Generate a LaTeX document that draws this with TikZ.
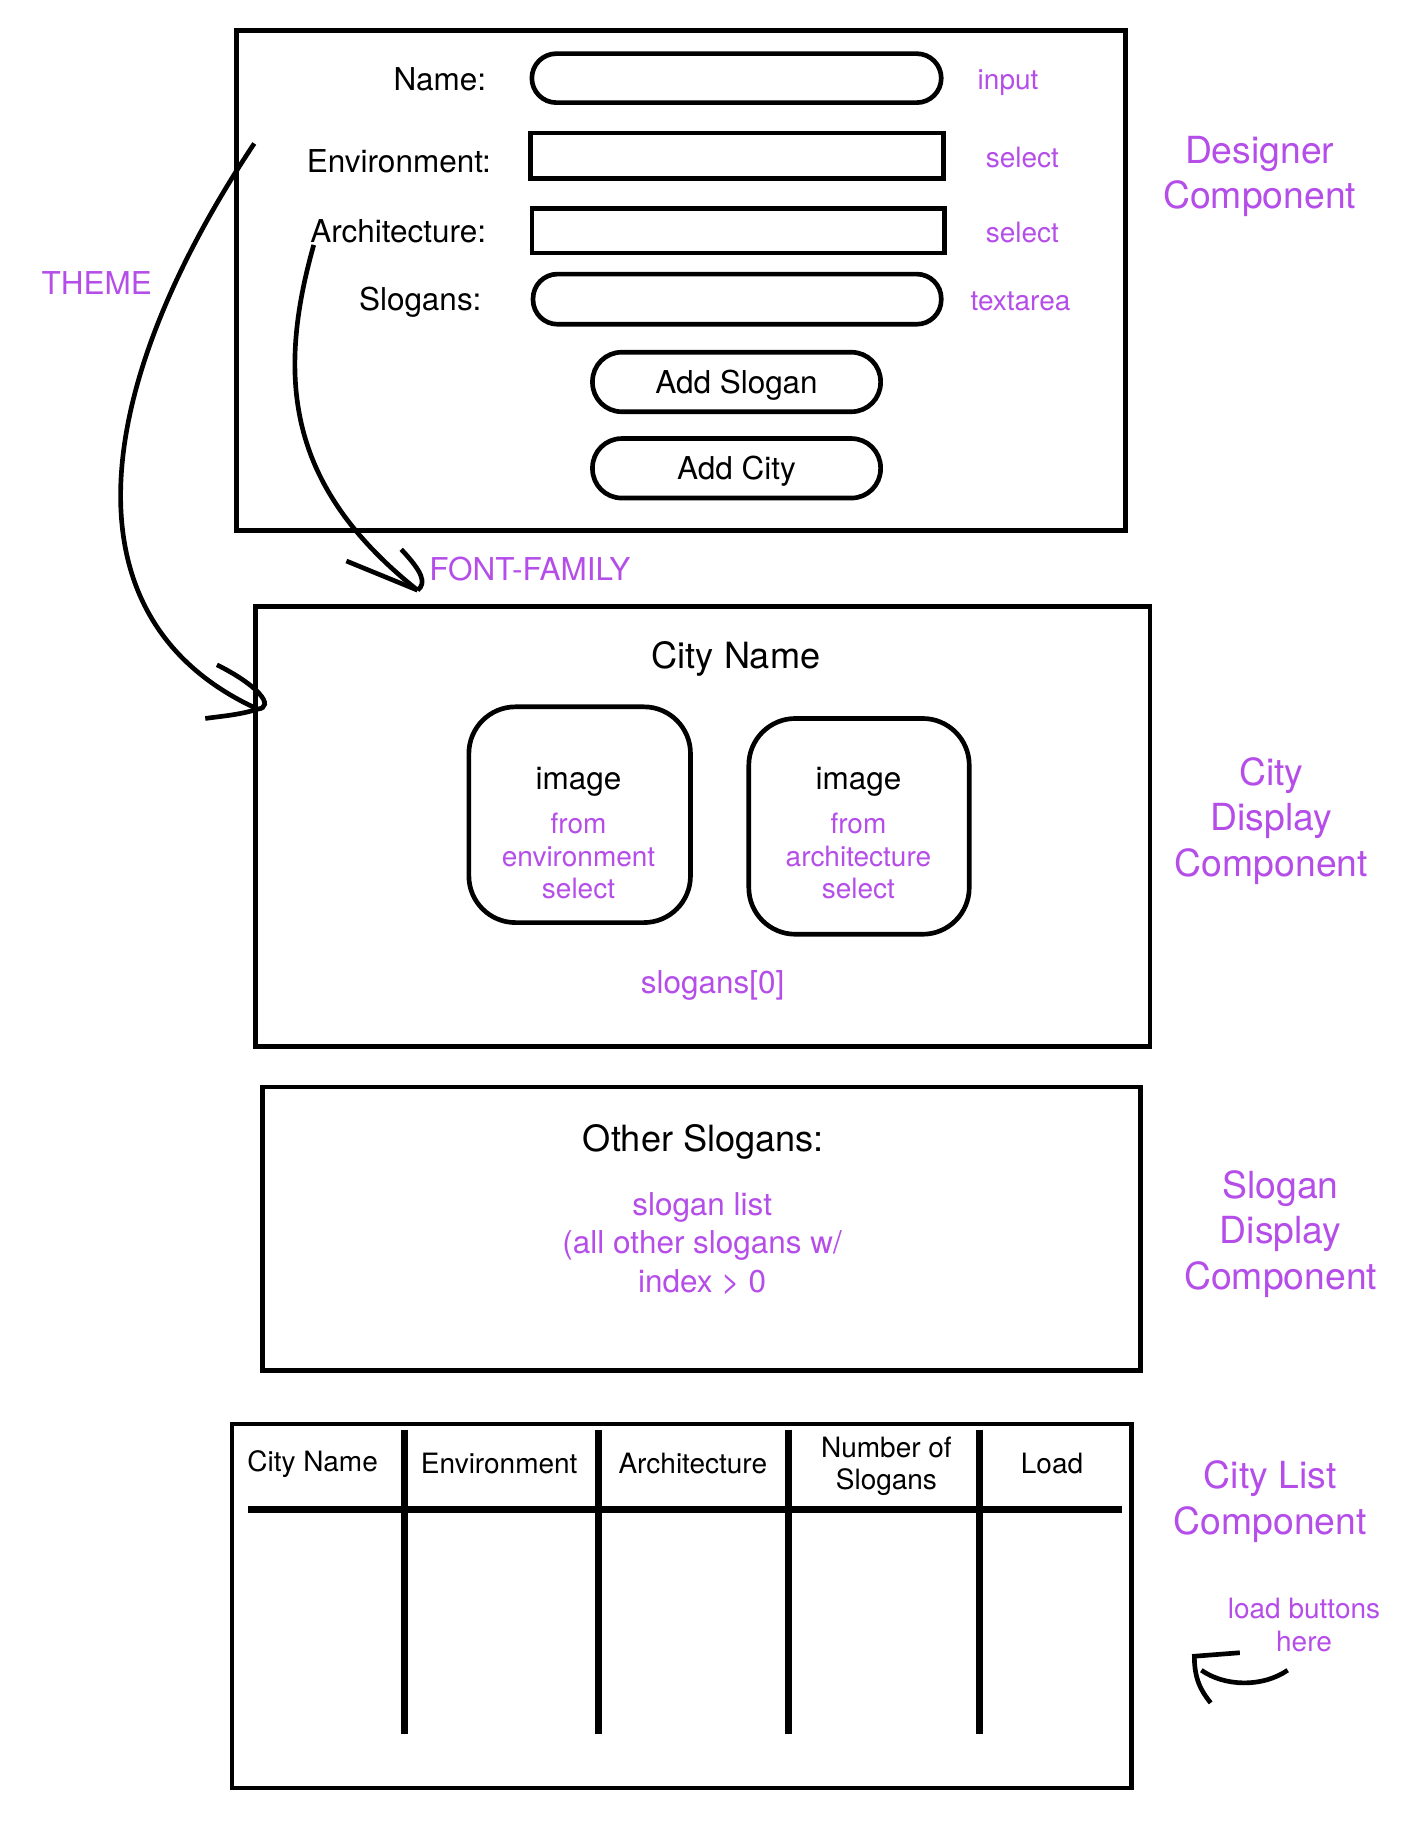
\documentclass[tikz,border=0pt]{standalone}
\usepackage{fontspec}
\setmainfont{TeX Gyre Heros}
\usepackage{xcolor}
\definecolor{hint}{RGB}{181,78,232}
\tikzstyle{panel}=[draw, line width=4pt, inner sep=0pt]
\tikzstyle{field}=[draw, line width=4pt, inner sep=0pt]
\tikzstyle{pill}=[field, rounded corners=21pt]
\tikzstyle{button}=[field, rounded corners=25pt, font=\fontsize{27}{32}\selectfont]
\tikzstyle{tile}=[field, rounded corners=40pt]
\tikzstyle{fieldname}=[anchor=mid east, inner sep=0pt, font=\fontsize{27}{32}\selectfont]
\tikzset{hint/.style={text=hint, font=\fontsize{24}{28}\selectfont}}
\tikzset{note/.style={text=hint, align=center, font=\fontsize{27}{33}\selectfont}}
\tikzset{component/.style={text=hint, align=center, font=\fontsize{32}{39}\selectfont}}
\tikzset{heading/.style={font=\fontsize{31}{37}\selectfont}}
\tikzset{colhead/.style={align=center, font=\fontsize{24}{27}\selectfont}}
\tikzset{stroke/.style={line width=4pt}}
\tikzset{column/.style={line width=6pt}}

\begin{document}
\begin{tikzpicture}[x=1pt,y=-1pt]
  \useasboundingbox (0,0) rectangle (1219,1569);
  %% Designer component
  \draw (584,240.5) node[panel,minimum width=762pt,minimum height=429pt] (designer) {};
  \draw (417,75) node[fieldname] (nameLbl) {Name:};
  \draw (421,145) node[fieldname] (envLbl) {Environment:};
  \draw (417,205) node[fieldname] (archLbl) {Architecture:};
  \draw (413,264) node[fieldname] (sloganLbl) {Slogans:};

  \draw (631.5,67) node[pill,minimum width=351pt,minimum height=42pt] (nameBox) {};
  \draw (632,133.5) node[field,minimum width=354pt,minimum height=39pt] (envBox) {};
  \draw (633,198) node[field,minimum width=354pt,minimum height=38pt] (archBox) {};
  \draw (632,256.5) node[pill,minimum width=350pt,minimum height=43pt] (sloganBox) {};
  \draw (631.5,327.5) node[button,minimum width=247pt,minimum height=51pt,text depth=0pt,text height=20pt] (addSlogan) {Add Slogan};
  \draw (631.5,401.5) node[button,minimum width=247pt,minimum height=51pt,text depth=0pt,text height=20pt] (addCity) {Add City};

  \draw (838,74) node[hint,anchor=mid west,inner sep=0pt] (nameHint) {input};
  \draw (845,141) node[hint,anchor=mid west,inner sep=0pt] (envHint) {select};
  \draw (845,205) node[hint,anchor=mid west,inner sep=0pt] (archHint) {select};
  \draw (832,264) node[hint,anchor=mid west,inner sep=0pt] (sloganHint) {textarea};

  %% City display component
  \draw (602.5,708.5) node[panel,minimum width=767pt,minimum height=377pt] (display) {};
  \draw (631,565) node[heading] (cityName) {City Name};
  \draw (497,698.5) node[tile,minimum width=190pt,minimum height=185pt] (imgEnv) {};
  \draw (736.5,708.5) node[tile,minimum width=189pt,minimum height=185pt] (imgArch) {};
  \draw (496,670) node[font=\fontsize{27}{32}\selectfont] (imgEnvTxt) {image};
  \draw (736,670) node[font=\fontsize{27}{32}\selectfont] (imgArchTxt) {image};
  \draw (496,734) node[hint,align=center] (imgEnvHint) {from\\environment\\select};
  \draw (736,734) node[hint,align=center] (imgArchHint) {from\\architecture\\select};
  \draw (611,845) node[note] (firstSlogan) {slogans[0]};

  %% Slogan display component
  \draw (601.5,1053.5) node[panel,minimum width=753pt,minimum height=243pt] (sloganPanel) {};
  \draw (603,979) node[heading] (otherSlogans) {Other Slogans:};
  \draw (602,1066) node[note] (sloganList) {slogan list\\(all other slogans w/\\index > 0};

  %% City list component
  \draw (584.5,1377) node[panel,minimum width=771pt,minimum height=312pt] (cityList) {};
  \draw[column] (213,1294) -- (962,1294);
  \draw[column] (347,1226) -- (347,1487);
  \draw[column] (513,1226) -- (513,1487);
  \draw[column] (676,1226) -- (676,1487);
  \draw[column] (840,1226) -- (840,1487);
  \draw (268,1255) node[colhead] (colCity) {City Name};
  \draw (428,1255) node[colhead] (colEnv) {Environment};
  \draw (594,1255) node[colhead] (colArch) {Architecture};
  \draw (760,1257) node[colhead] (colCount) {Number of\\Slogans};
  \draw (902,1255) node[colhead] (colLoad) {Load};

  %% Side notes
  \draw (1080,151.5) node[component] (designerNote) {Designer\\Component};
  \draw (1090,704) node[component] (displayNote) {City\\Display\\Component};
  \draw (1098,1058) node[component] (sloganNote) {Slogan\\Display\\Component};
  \draw (1089,1287.5) node[component] (listNote) {City List\\Component};
  \draw (1118,1393) node[hint,align=center] (loadNote) {load buttons\\here};
  \draw (83,243) node[note] (themeNote) {THEME};
  \draw (368,495) node[note,anchor=mid west,inner sep=0pt] (fontNote) {FONT-FAMILY};

  %% Hand drawn arrows
  \coordinate (themeStart) at (218,123);
  \coordinate (themeEnd) at (221,608);
  \draw[stroke] (themeStart) .. controls (80,330) and (50,530) .. (themeEnd);
  \draw[stroke] (186,570) .. controls (222,588) and (236,606) .. (themeEnd) .. controls (205,613) and (190,614) .. (176,616);

  \coordinate (fontStart) at (269,210);
  \coordinate (fontEnd) at (358,506);
  \draw[stroke] (fontStart) .. controls (235,330) and (250,420) .. (fontEnd);
  \draw[stroke] (297,481) -- (fontEnd);
  \draw[stroke] (344,471) .. controls (362,490) and (366,500) .. (fontEnd);

  \coordinate (loadStart) at (1104,1432);
  \coordinate (loadEnd) at (1030,1432);
  \draw[stroke] (loadStart) .. controls (1082,1447) and (1050,1446) .. (loadEnd);
  \draw[stroke] (1063,1417) -- (1024,1420) .. controls (1024,1440) and (1030,1450) .. (1038,1460);
\end{tikzpicture}
\end{document}
